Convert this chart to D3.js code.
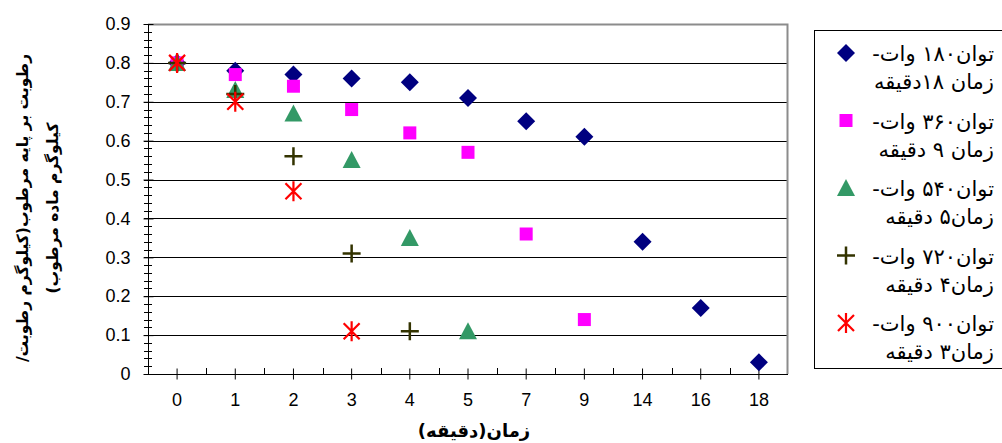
<!DOCTYPE html>
<html>
<head>
<meta charset="utf-8">
<script src="https://cdn.jsdelivr.net/npm/d3@7"></script>
<style>
  body { margin: 0; background: #fff; }
  svg { display: block; font-family: "Liberation Sans", "DejaVu Sans", sans-serif; }
  .rtl { direction: rtl; unicode-bidi: embed; }
</style>
</head>
<body>
<div id="chart"></div>
<script>
// categories on x axis (minutes)
var categories = ["0", "1", "2", "3", "4", "5", "7", "9", "14", "16", "18"];
var yTicks = [0, 0.1, 0.2, 0.3, 0.4, 0.5, 0.6, 0.7, 0.8, 0.9];

// moisture content per power level
var s180 = [0.80, 0.78, 0.77, 0.76, 0.75, 0.71, 0.65, 0.61, 0.34, 0.17, 0.03];
var s360 = [0.80, 0.77, 0.74, 0.68, 0.62, 0.57, 0.36, 0.14];
var s540 = [0.80, 0.73, 0.67, 0.55, 0.35, 0.11];
var s720 = [0.80, 0.72, 0.56, 0.31, 0.11];
var s900 = [0.80, 0.70, 0.47, 0.11];

var seriesNames = [
    ["توان۱۸۰ وات-", "زمان ۱۸دقیقه"],
    ["توان۳۶۰ وات-", "زمان ۹ دقیقه"],
    ["توان۵۴۰ وات-", "زمان۵ دقیقه"],
    ["توان۷۲۰ وات-", "زمان۴ دقیقه"],
    ["توان۹۰۰ وات-", "زمان۳ دقیقه"]
];
var seriesValues = [s180, s360, s540, s720, s900];
var seriesShapes = ["diamond", "square", "triangle", "plus", "star"];
var seriesColors = ["#000080", "#ff00ff", "#339966", "#333300", "#ff0000"];

const [svgW, svgH] = [1002, 443];
const plot = {left: 148, right: 788, top: 24, bottom: 374};

var svg = d3.select("#chart").append("svg").attr("width", svgW).attr("height", svgH);

var x = d3.scaleBand().domain(categories).range([plot.left, plot.right]);
var y = d3.scaleLinear().domain([0, 0.9]).range([plot.bottom, plot.top]);

// gridlines
svg.append("g").selectAll("line").data(yTicks.slice(1, -1)).join("line")
    .attr("x1", plot.left).attr("x2", plot.right)
    .attr("y1", d => Math.round(y(d)) + 0.5).attr("y2", d => Math.round(y(d)) + 0.5)
    .attr("stroke", "#000").attr("stroke-width", 1);

// plot border top / right
svg.append("path")
    .attr("d", "M" + plot.left + "," + (plot.top + 0.5) + "H" + (plot.right - 0.5) + "V" + plot.bottom)
    .attr("fill", "none").attr("stroke", "#8c8c8c").attr("stroke-width", 2);

// y axis
var minor = d3.range(0, 0.9001, 0.02);
svg.append("g").selectAll("line").data(minor).join("line")
    .attr("x1", plot.left - 4).attr("x2", plot.left + 4)
    .attr("y1", d => Math.round(y(d)) + 0.5).attr("y2", d => Math.round(y(d)) + 0.5)
    .attr("stroke", "#000");
var yAxis = d3.axisLeft(y).tickValues(yTicks).tickSize(5).tickPadding(13)
    .tickFormat(d => d === 0 ? "0" : d3.format(".1f")(d));
svg.append("g").attr("transform", "translate(" + (plot.left + 0.5) + ",0)").call(yAxis)
    .call(g => g.select(".domain").remove())
    .call(g => g.selectAll(".tick line").attr("x2", 5).attr("x1", -5))
    .call(g => g.selectAll("text").attr("font-size", 18).attr("font-family", "Liberation Sans").attr("fill", "#000"));
svg.append("line").attr("x1", plot.left + 0.5).attr("x2", plot.left + 0.5)
    .attr("y1", plot.top).attr("y2", plot.bottom + 1).attr("stroke", "#000");

// x axis
var xAxis = d3.axisBottom(x).tickSize(5).tickPadding(14);
svg.append("g").attr("transform", "translate(0," + (plot.bottom + 0.5) + ")").call(xAxis)
    .call(g => g.select(".domain").remove())
    .call(g => g.selectAll(".tick line").attr("y1", -6).attr("y2", 5))
    .call(g => g.selectAll("text").attr("font-size", 18).attr("font-family", "Liberation Sans").attr("fill", "#000"));
svg.append("g").selectAll("line").data(categories.slice(1)).join("line")
    .attr("x1", d => Math.round(x(d)) + 0.5).attr("x2", d => Math.round(x(d)) + 0.5)
    .attr("y1", plot.bottom - 6).attr("y2", plot.bottom).attr("stroke", "#000");
svg.append("line").attr("x1", plot.left).attr("x2", plot.right)
    .attr("y1", plot.bottom + 0.5).attr("y2", plot.bottom + 0.5).attr("stroke", "#000");

// marker drawing
function drawMarker(g, shape, color) {
    if (shape === "diamond") {
        g.append("path").attr("d", "M0,-9L9,0L0,9L-9,0Z").attr("fill", color);
    } else if (shape === "square") {
        g.append("rect").attr("x", -6.5).attr("y", -6.5).attr("width", 13).attr("height", 13).attr("fill", color);
    } else if (shape === "triangle") {
        g.append("path").attr("d", "M0,-9L9,8L-9,8Z").attr("fill", color);
    } else if (shape === "plus") {
        g.append("path").attr("d", "M-9,0H9M0,-9V9").attr("stroke", color).attr("stroke-width", 2.5).attr("fill", "none");
    } else {
        g.append("path").attr("d", "M0,-10V10M-8,-8L8,8M-8,8L8,-8").attr("stroke", color).attr("stroke-width", 2.2).attr("fill", "none");
    }
}

var half = x.bandwidth() / 2;
seriesValues.forEach(function (vals, i) {
    var g = svg.append("g");
    vals.forEach(function (v, j) {
        var m = g.append("g").attr("transform", "translate(" + (x(categories[j]) + half) + "," + y(v) + ")");
        drawMarker(m, seriesShapes[i], seriesColors[i]);
    });
});

// legend
svg.append("rect").attr("x", 814.5).attr("y", 30.5).attr("width", 200).attr("height", 338)
    .attr("fill", "#fff").attr("stroke", "#000");
seriesNames.forEach(function (lines, i) {
    var yy = 53 + i * 67.5;
    var m = svg.append("g").attr("transform", "translate(846," + yy + ")");
    drawMarker(m, seriesShapes[i], seriesColors[i]);
    lines.forEach(function (t, k) {
        svg.append("text").attr("class", "rtl").attr("x", 994).attr("y", yy + 8 + k * 28)
            .attr("text-anchor", "start").attr("font-size", 21).attr("font-family", "DejaVu Sans")
            .text(t);
    });
});

// axis titles
var yLabel = svg.append("g").attr("transform", "translate(0,208) rotate(-90)");
yLabel.append("text").attr("class", "rtl").attr("x", 0).attr("y", 28).attr("text-anchor", "middle")
    .attr("font-size", 15.5).attr("font-weight", "bold").attr("font-family", "DejaVu Sans")
    .text("رطوبت بر پایه مرطوب(کیلوگرم رطوبت/");
yLabel.append("text").attr("class", "rtl").attr("x", 0).attr("y", 58).attr("text-anchor", "middle")
    .attr("font-size", 15.5).attr("font-weight", "bold").attr("font-family", "DejaVu Sans")
    .text("کیلوگرم ماده مرطوب)");

svg.append("text").attr("class", "rtl").attr("x", 474).attr("y", 437).attr("text-anchor", "middle")
    .attr("font-size", 18).attr("font-weight", "bold").attr("font-family", "DejaVu Sans")
    .text("زمان(دقیقه)");
</script>
</body>
</html>
